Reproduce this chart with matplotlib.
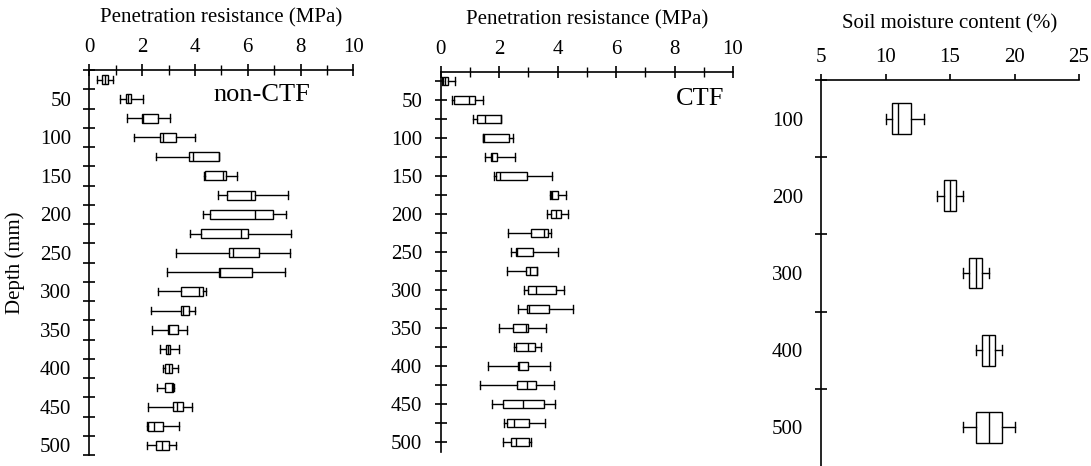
import numpy as np
import matplotlib
matplotlib.use("Agg")
import matplotlib.pyplot as plt
from matplotlib.ticker import MultipleLocator, FixedLocator

plt.rcParams["font.family"] = ["Liberation Serif", "DejaVu Serif"]
plt.rcParams["font.size"] = 15

# ==========================================================
# Data
# ==========================================================

depth_pr = list(range(25, 501, 25))

# non-CTF penetration resistance (MPa)
noctf_lo = [0.28, 1.16, 1.44, 1.70, 2.53, 4.34, 4.86, 4.32, 3.80, 3.28,
            2.94, 2.59, 2.35, 2.38, 2.68, 2.78, 2.56, 2.24, 2.19, 2.20]
noctf_q1 = [0.47, 1.38, 1.98, 2.68, 3.78, 4.38, 5.23, 4.57, 4.24, 5.28,
            4.92, 3.48, 3.48, 2.99, 2.91, 2.88, 2.88, 3.17, 2.22, 2.54]
noctf_med = [0.59, 1.45, 2.05, 2.80, 3.92, 5.08, 6.13, 6.26, 5.76, 5.43,
             4.95, 4.16, 3.56, 3.03, 2.97, 3.00, 3.15, 3.33, 2.46, 2.75]
noctf_q3 = [0.72, 1.58, 2.59, 3.27, 4.92, 5.17, 6.26, 6.95, 6.02, 6.44,
            6.17, 4.32, 3.78, 3.37, 3.06, 3.13, 3.18, 3.54, 2.80, 3.02]
noctf_hi = [0.89, 2.02, 3.06, 4.00, 4.92, 5.58, 7.51, 7.44, 7.65, 7.60,
            7.41, 4.42, 4.00, 3.71, 3.41, 3.37, 3.19, 3.88, 3.39, 3.28]

# CTF penetration resistance (MPa)
ctf_lo = [0.04, 0.40, 1.10, 1.44, 1.51, 1.82, 3.74, 3.63, 2.29, 2.41,
          2.27, 2.86, 2.64, 1.99, 2.50, 1.62, 1.36, 1.76, 2.17, 2.14]
ctf_q1 = [0.09, 0.47, 1.25, 1.46, 1.71, 1.88, 3.77, 3.79, 3.10, 2.56,
          2.91, 2.98, 2.95, 2.49, 2.56, 2.64, 2.60, 2.14, 2.26, 2.42]
ctf_med = [0.16, 0.97, 1.53, 1.47, 1.76, 2.04, 3.80, 3.94, 3.55, 2.62,
           3.06, 3.26, 3.01, 2.91, 2.99, 2.69, 2.95, 2.82, 2.50, 2.57]
ctf_q3 = [0.26, 1.18, 2.07, 2.32, 1.92, 2.95, 4.03, 4.11, 3.66, 3.16,
          3.31, 3.93, 3.70, 3.00, 3.24, 2.98, 3.25, 3.54, 3.02, 3.01]
ctf_hi = [0.49, 1.44, 2.07, 2.48, 2.53, 3.82, 4.29, 4.35, 3.77, 4.03,
          3.31, 4.23, 4.52, 3.60, 3.42, 3.74, 3.88, 3.90, 3.57, 3.10]

# soil moisture content (%)
depth_sm = [100, 200, 300, 400, 500]
sm_lo = [10.0, 14.0, 16.0, 17.0, 16.0]
sm_q1 = [10.5, 14.5, 16.5, 17.5, 17.0]
sm_med = [11.0, 15.0, 17.0, 18.0, 18.0]
sm_q3 = [12.0, 15.5, 17.5, 18.5, 19.0]
sm_hi = [13.0, 16.0, 18.0, 19.0, 20.0]


def make_stats(lo, q1, med, q3, hi):
    return [
        dict(whislo=a, q1=b, med=c, q3=d, whishi=e, fliers=[])
        for a, b, c, d, e in zip(lo, q1, med, q3, hi)
    ]


def draw_boxes(ax, stats, pos, width, cap):
    ax.bxp(
        stats,
        positions=pos,
        widths=width,
        capwidths=cap,
        orientation="horizontal",
        showfliers=False,
        manage_ticks=False,
        patch_artist=True,
        boxprops=dict(facecolor="white", edgecolor="black", linewidth=1.0),
        medianprops=dict(color="black", linewidth=1.0),
        whiskerprops=dict(color="black", linewidth=1.0),
        capprops=dict(color="black", linewidth=1.0),
    )


def style_axes(ax):
    ax.xaxis.set_ticks_position("top")
    ax.xaxis.set_label_position("top")
    ax.spines["right"].set_visible(False)
    ax.spines["bottom"].set_visible(False)
    ax.spines["left"].set_linewidth(1.2)
    ax.spines["top"].set_linewidth(1.2)


W, H = 1091, 466
fig = plt.figure(figsize=(W / 100, H / 100), dpi=100)


def add_axes(x0, y0, x1, y1):
    return fig.add_axes([x0 / W, 1 - y1 / H, (x1 - x0) / W, (y1 - y0) / H])


# ==========================================================
# Panel 1: non-CTF
# ==========================================================

ax1 = add_axes(89.3, 70, 353.3, 455)
draw_boxes(ax1, make_stats(noctf_lo, noctf_q1, noctf_med, noctf_q3, noctf_hi),
           depth_pr, 12, 10)
ax1.set_xlim(0, 10)
ax1.set_ylim(512.5, 12.5)
style_axes(ax1)
ax1.xaxis.set_major_locator(MultipleLocator(2))
ax1.xaxis.set_minor_locator(MultipleLocator(1))
ax1.tick_params(axis="x", which="major", direction="inout", length=8.5,
                width=1.2, pad=5)
ax1.tick_params(axis="x", which="minor", direction="inout", length=6.5,
                width=1.0)
ax1.yaxis.set_major_locator(FixedLocator(np.arange(50, 501, 50)))
ax1.yaxis.set_minor_locator(FixedLocator(np.arange(12.5, 513, 25)))
ax1.tick_params(axis="y", which="major", length=0, pad=13)
ax1.tick_params(axis="y", which="minor", direction="inout", length=8.5,
                width=1.2)
ax1.set_xlabel("Penetration resistance (MPa)", fontsize=15, labelpad=11)
ax1.set_ylabel("Depth (mm)")
ax1.yaxis.set_label_coords(-0.245, 0.5)
ax1.text(4.72, 45, "non-CTF", fontsize=19, va="center", ha="left")

# ==========================================================
# Panel 2: CTF
# ==========================================================

ax2 = add_axes(440.7, 71.7, 733, 451.7)
draw_boxes(ax2, make_stats(ctf_lo, ctf_q1, ctf_med, ctf_q3, ctf_hi),
           depth_pr, 11, 10)
ax2.set_xlim(0, 10)
ax2.set_ylim(512.5, 12.5)
style_axes(ax2)
ax2.xaxis.set_major_locator(MultipleLocator(2))
ax2.xaxis.set_minor_locator(MultipleLocator(1))
ax2.tick_params(axis="x", which="major", direction="inout", length=8.5,
                width=1.2, pad=5)
ax2.tick_params(axis="x", which="minor", direction="inout", length=6.5,
                width=1.0)
ax2.yaxis.set_major_locator(FixedLocator(np.arange(50, 501, 50)))
ax2.yaxis.set_minor_locator(FixedLocator(np.arange(25, 500, 50)))
ax2.tick_params(axis="y", which="both", direction="inout", length=8.5,
                width=1.2)
ax2.tick_params(axis="y", which="major", pad=9)
ax2.set_xlabel("Penetration resistance (MPa)", fontsize=15, labelpad=11)
ax2.text(8.05, 48, "CTF", fontsize=19, va="center", ha="left")

# ==========================================================
# Panel 3: soil moisture
# ==========================================================

ax3 = add_axes(821, 80, 1079, 466)
draw_boxes(ax3, make_stats(sm_lo, sm_q1, sm_med, sm_q3, sm_hi),
           depth_sm, 40, 13)
ax3.set_xlim(5, 25)
ax3.set_ylim(550, 50)
style_axes(ax3)
ax3.xaxis.set_major_locator(MultipleLocator(5))
ax3.tick_params(axis="x", which="major", direction="out", length=4.5,
                width=1.2, pad=5)
ax3.yaxis.set_major_locator(FixedLocator(depth_sm))
ax3.yaxis.set_minor_locator(FixedLocator([50, 150, 250, 350, 450]))
ax3.tick_params(axis="y", which="major", length=0, pad=13)
ax3.tick_params(axis="y", which="minor", direction="inout", length=8.5,
                width=1.2)
ax3.set_xlabel("Soil moisture content (%)", fontsize=15, labelpad=14)

fig.savefig("out.png", dpi=100)
